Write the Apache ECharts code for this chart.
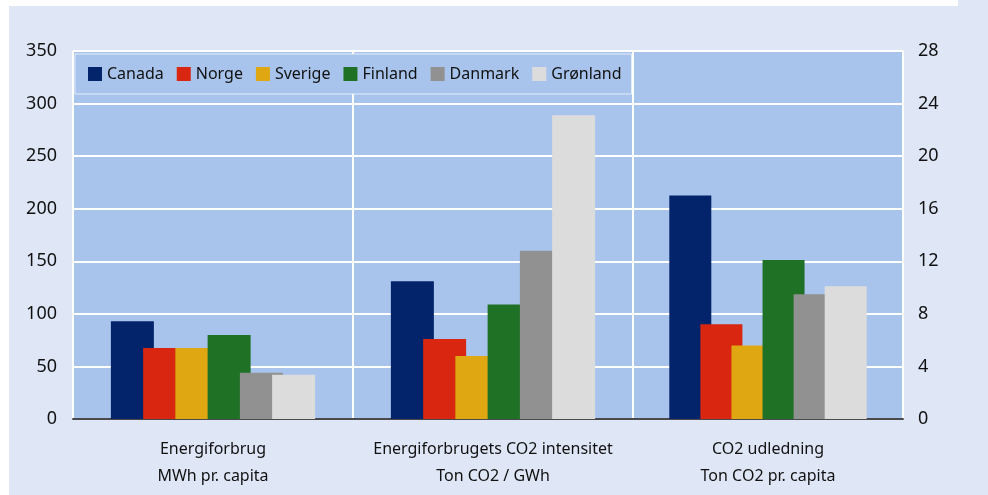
<!DOCTYPE html>
<html>
<head>
<meta charset="utf-8">
<script src="https://cdn.jsdelivr.net/npm/echarts@6/dist/echarts.min.js"></script>
<style>
html,body{margin:0;padding:0;background:#ffffff;}
#chart{width:988px;height:495px;}
</style>
</head>
<body>
<div id="chart"></div>
<script>
const countries = ['Canada', 'Norge', 'Sverige', 'Finland', 'Danmark', 'Grønland'];
const colors = ['#03246b', '#d82611', '#dfa813', '#1f7126', '#919191', '#dcdcdc'];
const leftCategories = ['Energiforbrug\nMWh pr. capita', 'Energiforbrugets CO2 intensitet\nTon CO2 / GWh'];
const rightCategories = ['CO2 udledning\nTon CO2 pr. capita'];
const energiforbrug = [93, 67.5, 67.5, 80, 44, 42];
const intensitet = [131, 76, 60, 109, 160, 289];
const udledning = [17.0, 7.2, 5.6, 12.1, 9.5, 10.1];
const leftTicks = {min: 0, max: 350, interval: 50};
const rightTicks = {min: 0, max: 28, interval: 4};

const FONT = 'Noto Sans';
const chart = echarts.init(document.getElementById('chart'), null, {renderer: 'canvas'});

const series = [];
countries.forEach((c, i) => {
  series.push({
    name: c, type: 'bar', xAxisIndex: 0, yAxisIndex: 0,
    data: [energiforbrug[i], intensitet[i]],
    barWidth: 43, barGap: '-25%',
    itemStyle: {color: colors[i]}, z: 2 + i
  });
});
countries.forEach((c, i) => {
  series.push({
    name: c, type: 'bar', xAxisIndex: 1, yAxisIndex: 1,
    data: [udledning[i]],
    barWidth: 42, barGap: '-26%',
    itemStyle: {color: colors[i]}, z: 2 + i
  });
});

const gridLine = {show: true, lineStyle: {color: '#ffffff', width: 2}};
const catAxisCommon = {
  type: 'category',
  axisTick: {show: false},
  axisLine: {show: true, onZero: false, lineStyle: {color: '#4a4a4a', width: 2}},
  splitLine: {show: true, lineStyle: {color: '#ffffff', width: 2}},
  axisLabel: {fontFamily: FONT, fontSize: 16, color: '#111111', lineHeight: 27, margin: 17, interval: 0}
};

chart.setOption({
  backgroundColor: '#dfe7f7',
  animation: false,
  graphic: [
    {type: 'rect', shape: {x: 0, y: 0, width: 958, height: 6}, style: {fill: '#ffffff'}, silent: true},
    {type: 'rect', shape: {x: 0, y: 0, width: 9, height: 495}, style: {fill: '#ffffff'}, silent: true}
  ],
  grid: [
    {left: 73, top: 51, width: 560, bottom: 76, show: true, backgroundColor: '#a8c4ec', borderWidth: 0},
    {left: 633, top: 51, width: 270, bottom: 76, show: true, backgroundColor: '#a8c4ec', borderWidth: 0}
  ],
  legend: {
    data: countries,
    left: 75, top: 54,
    padding: [12, 10, 12, 13],
    backgroundColor: '#a8c4ec',
    borderColor: 'rgba(255,255,255,0.7)', borderWidth: 1,
    itemWidth: 14, itemHeight: 14, itemGap: 13,
    icon: 'rect',
    textStyle: {fontFamily: FONT, fontSize: 16, color: '#111111'}
  },
  xAxis: [
    Object.assign({gridIndex: 0, data: leftCategories}, catAxisCommon),
    Object.assign({gridIndex: 1, data: rightCategories}, catAxisCommon)
  ],
  yAxis: [
    {gridIndex: 0, type: 'value', position: 'left', min: leftTicks.min, max: leftTicks.max, interval: leftTicks.interval,
     axisLine: {show: false}, axisTick: {show: false}, splitLine: gridLine,
     axisLabel: {fontFamily: FONT, fontSize: 18, color: '#111111', margin: 16}},
    {gridIndex: 1, type: 'value', position: 'right', min: rightTicks.min, max: rightTicks.max, interval: rightTicks.interval,
     axisLine: {show: false}, axisTick: {show: false}, splitLine: gridLine,
     axisLabel: {fontFamily: FONT, fontSize: 18, color: '#111111', margin: 15}}
  ],
  series: series
});
</script>
</body>
</html>
